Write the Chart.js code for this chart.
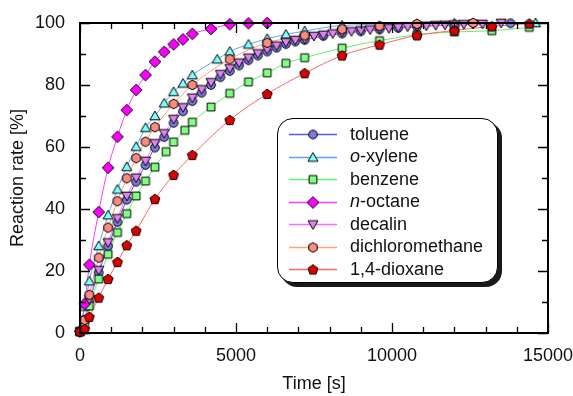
<!DOCTYPE html>
<html><head><meta charset="utf-8">
<script src="https://cdn.jsdelivr.net/npm/chart.js@4.4.1/dist/chart.umd.min.js"></script>
<style>
html,body{margin:0;padding:0;background:#fff;}
#wrap{position:relative;width:573px;height:396px;}
#legend{position:absolute;left:277px;top:118px;width:219px;height:163px;border:1.6px solid #000;border-radius:16px;background:#fff;box-shadow:4px 4px 0 #1a1a1a;font-family:Arial,"Liberation Sans",sans-serif;font-size:18px;color:#111;}
.row{position:absolute;left:0;height:22px;display:flex;align-items:center;white-space:nowrap;}
.row canvas{margin-left:11.4px;}
.row span{margin-left:12.5px;}
</style>
</head><body>
<div id="wrap">
<canvas id="c" width="573" height="396"></canvas>
<div id="legend"></div>
</div>
<script>
// ---- data (time [s], reaction rate [%]) ----
const seriesNames = ['toluene','<i>o</i>-xylene','benzene','<i>n</i>-octane','decalin','dichloromethane','1,4-dioxane'];

const tolueneT = [0,150,300,600,900,1200,1500,1800,2100,2400,2700,3000,3300,3600,3900,4200,4500,4800,5100,5400,5700,6000,6300,6600,6900,7200,7800,8400,9000,9600,10200,10800,12000,13800];
const tolueneY = [0.5,3.8,10.2,19.5,28,35.8,43,48.8,54.2,59.8,63.2,67.8,71.5,74.8,77.5,80,82.5,84.5,86.3,88,89.5,90.8,92,93.2,94,94.5,95.8,96.6,97.3,97.9,98.4,98.8,99.4,99.9];

const xyleneT = [0,150,300,600,900,1200,1500,1800,2100,2400,2700,3000,3300,3600,4400,4800,5400,6000,6600,7200,8400,12000,14600];
const xyleneY = [0.5,8.5,16.7,28.1,38,46.3,53.6,60.1,66.2,70,74.1,77.8,80.5,83.2,88.3,90.8,93.1,94.9,96.3,97.4,99.2,99.9,100];

const benzeneT = [0,150,300,600,900,1200,1500,1800,2100,2400,2760,3000,3360,3600,4200,4800,5400,6000,6600,7200,8400,9600,10800,12000,13200,14400];
const benzeneY = [0.5,2.6,8.7,17.4,25.4,32.4,38.5,44.2,49,53.5,58.5,61.6,65.4,68,72.9,77.3,81,83.9,87,88.8,91.9,94.3,96.2,97.1,97.5,98.6];

const octaneT = [0,150,300,600,900,1200,1500,1800,2100,2400,2700,3000,3300,3600,4200,4800,5400,6000];
const octaneY = [0.5,9.4,22,39,53.3,63.3,71.9,78.4,83.2,87.5,90.7,93.1,94.7,96.5,98.1,99.6,99.9,100];

const decalinT = [0,150,300,600,900,1200,1500,1800,2100,2400,2700,3000,3300,3600,3900,4200,4500,4800,5100,5400,5700,6000,6300,6600,6900,7200,7500,7800,8100,8400,8700,9000,9300,9600,9900,10200,10500,10800,11100,11400,11700,12000,12300,12600,12900,13500];
const decalinY = [0.5,4.2,10.9,20.3,29.2,37,44.2,50.1,55.5,61.2,64.4,69,72.8,75.9,78.6,80.9,83.5,85.4,87.2,88.8,90.2,91.5,92.7,93.8,94.5,94.8,95.8,96.2,96.6,97,97.3,97.6,97.9,98.1,98.3,98.6,98.8,98.9,99.1,99.3,99.4,99.5,99.6,99.7,99.7,100];

const dcmT = [0,150,300,600,900,1200,1500,1800,2100,2400,3000,3600,4800,6000,7200,8400,9600,10800,12600];
const dcmY = [0.5,4.2,12.3,24.3,34,42.5,49.9,56.4,61.7,66.4,73.9,80,88.3,93.6,96,98,99,99.7,100];

const dioxaneT = [0,150,300,600,900,1200,1500,1800,2400,3000,3600,4800,6000,7200,8400,9600,10800,12000,13200,14400];
const dioxaneY = [0.5,1.3,5.2,11.4,17.4,22.9,28.3,33,43.2,51,57.4,68.7,77.1,83.8,89.5,93,96,97.6,98.9,99.8];

const xTicks = [0,5000,10000,15000];
const yTicks = [0,20,40,60,80,100];
const xMinorStep = 1000;
const yMinorStep = 10;

// ---- styles ----
const styles = [
  {shape:'circle', line:'#5a5aee', fill:'#7b7be2'},
  {shape:'tri',    line:'#58a4ff', fill:'#80ffff'},
  {shape:'square', line:'#66ee66', fill:'#80ff80'},
  {shape:'diamond',line:'#ff3cff', fill:'#ff00ff'},
  {shape:'itri',   line:'#ff6cff', fill:'#e282f2'},
  {shape:'hex',    line:'#ffa07a', fill:'#ff8a80'},
  {shape:'pent',   line:'#ff6464', fill:'#dd0000'}
];
const seriesT = [tolueneT,xyleneT,benzeneT,octaneT,decalinT,dcmT,dioxaneT];
const seriesY = [tolueneY,xyleneY,benzeneY,octaneY,decalinY,dcmY,dioxaneY];

function poly(g,cx,cy,r,n,startDeg){
  for(let k=0;k<n;k++){
    const a=(startDeg+k*360/n)*Math.PI/180;
    const px=cx+r*Math.cos(a), py=cy+r*Math.sin(a);
    if(k===0) g.moveTo(px,py); else g.lineTo(px,py);
  }
}
function makeMarker(shape, fill){
  const S=16,c=S/2;
  const cv=document.createElement('canvas'); cv.width=S; cv.height=S;
  const g=cv.getContext('2d'); g.beginPath();
  switch(shape){
    case 'circle': g.arc(c,c,4.3,0,2*Math.PI); break;
    case 'tri': poly(g,c,c+0.9,5.8,3,-90); break;
    case 'square': g.rect(c-3.9,c-3.9,7.8,7.8); break;
    case 'diamond': poly(g,c,c,5.8,4,-90); break;
    case 'itri': poly(g,c,c-0.9,5.8,3,90); break;
    case 'hex': poly(g,c,c,4.9,6,-90); break;
    case 'pent': poly(g,c,c+0.4,5.2,5,-90); break;
  }
  g.closePath(); g.fillStyle=fill; g.fill();
  g.lineWidth=1; g.strokeStyle='#000'; g.stroke();
  return cv;
}
const markers = styles.map(s=>makeMarker(s.shape,s.fill));

// ---- datasets ----
const datasets = [];
seriesT.forEach((T,i)=>{
  const pts = T.map((t,j)=>({x:t,y:seriesY[i][j]}));
  datasets.push({label:'line'+i, data:pts, showLine:true, borderColor:styles[i].line, borderWidth:1,
    pointRadius:0, cubicInterpolationMode:'monotone', clip:false, order:100+(7-i)});
  datasets.push({label:'pts'+i, data:pts, showLine:false, pointStyle:markers[i], pointRadius:6,
    clip:false, order:7-i});
});

const tickPlugin = {
  id:'inwardTicks',
  afterDraw(chart){
    const {ctx, chartArea:a, scales:{x,y}} = chart;
    ctx.save();
    ctx.strokeStyle='#000'; ctx.lineWidth=1.3;
    ctx.beginPath();
    for(let v=x.min; v<=x.max; v+=xMinorStep){
      const px=Math.round(x.getPixelForValue(v))+0.5;
      const L = xTicks.includes(v)?10:6;
      ctx.moveTo(px,a.bottom); ctx.lineTo(px,a.bottom-L);
      ctx.moveTo(px,a.top); ctx.lineTo(px,a.top+L);
    }
    for(let v=y.min; v<=y.max; v+=yMinorStep){
      const py=Math.round(y.getPixelForValue(v))+0.5;
      const L = yTicks.includes(v)?10:6;
      ctx.moveTo(a.left,py); ctx.lineTo(a.left+L,py);
      ctx.moveTo(a.right,py); ctx.lineTo(a.right-L,py);
    }
    ctx.stroke();
    ctx.lineWidth=2;
    ctx.strokeRect(a.left,a.top,a.right-a.left,a.bottom-a.top);
    ctx.restore();
  }
};

Chart.defaults.font.family = 'Arial, "Liberation Sans", sans-serif';
Chart.defaults.font.size = 18;
Chart.defaults.color = '#111';

new Chart(document.getElementById('c'), {
  type:'scatter',
  data:{datasets},
  options:{
    responsive:false, animation:false, devicePixelRatio:1,
    layout:{padding:{top:23,right:25,left:0,bottom:0}},
    plugins:{legend:{display:false}, tooltip:{enabled:false}},
    scales:{
      x:{type:'linear', min:0, max:15000,
        grid:{display:false, drawTicks:false}, border:{display:false},
        afterBuildTicks:s=>{s.ticks = xTicks.map(v=>({value:v}));},
        ticks:{padding:12, maxRotation:0, autoSkip:false, callback:v=>String(v)},
        title:{display:true, text:'Time [s]', padding:{top:0,bottom:1}},
        afterFit:s=>{s.height=63; s.paddingLeft=0; s.paddingRight=0;}
      },
      y:{type:'linear', min:0, max:100,
        grid:{display:false, drawTicks:false}, border:{display:false},
        afterBuildTicks:s=>{s.ticks = yTicks.map(v=>({value:v}));},
        ticks:{padding:15, autoSkip:false, callback:v=>String(v)},
        title:{display:true, text:'Reaction rate [%]', padding:{top:7,bottom:0}},
        afterFit:s=>{s.width=80; s.paddingTop=0; s.paddingBottom=0;}
      }
    }
  },
  plugins:[tickPlugin]
});

// ---- HTML legend ----
const leg = document.getElementById('legend');
seriesNames.forEach((name,i)=>{
  const row=document.createElement('div'); row.className='row';
  row.style.top=(4.4+22.5*i)+'px';
  const cv=document.createElement('canvas'); cv.width=48; cv.height=20;
  const g=cv.getContext('2d');
  g.strokeStyle=styles[i].line; g.lineWidth=1.3;
  g.beginPath(); g.moveTo(0,10.5); g.lineTo(48,10.5); g.stroke();
  g.drawImage(markers[i],24-8,10-8+0.5);
  const sp=document.createElement('span'); sp.innerHTML=name;
  row.appendChild(cv); row.appendChild(sp); leg.appendChild(row);
});
</script>
</body></html>
